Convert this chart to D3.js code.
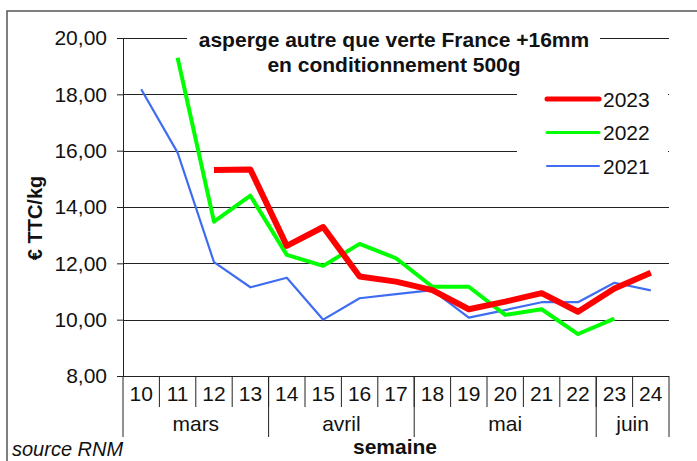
<!DOCTYPE html>
<html>
<head>
<meta charset="utf-8">
<script src="https://cdn.jsdelivr.net/npm/d3@7"></script>
<style>
  body { margin: 0; background: #fff; }
  svg { font-family: "Liberation Sans", Arial, sans-serif; }
</style>
</head>
<body>
<svg id="chart" width="697" height="461"></svg>
<script>
// data
const weeks = [10, 11, 12, 13, 14, 15, 16, 17, 18, 19, 20, 21, 22, 23, 24];
const months = [
    { name: "mars", from: 10, to: 13 },
    { name: "avril", from: 14, to: 17 },
    { name: "mai", from: 18, to: 22 },
    { name: "juin", from: 23, to: 24 }
];
const v2023 = [null, null, 15.31, 15.33, 12.62, 13.29, 11.53, 11.35, 11.05, 10.37, 10.64, 10.94, 10.28, 11.11, 11.67];
const v2022 = [null, 19.30, 13.48, 14.40, 12.30, 11.91, 12.69, 12.18, 11.17, 11.17, 10.17, 10.37, 9.49, 10.04, null];
const v2021 = [18.18, 15.93, 12.04, 11.15, 11.49, 10.00, 10.76, 10.91, 11.05, 10.07, 10.34, 10.62, 10.62, 11.31, 11.04];
const yTicks = [8, 10, 12, 14, 16, 18, 20];

const series = [
    { name: "2023", values: v2023, color: "#ff0000", width: 6 },
    { name: "2022", values: v2022, color: "#00ff00", width: 4 },
    { name: "2021", values: v2021, color: "#3f6df2", width: 2.2 }
];

const svg = d3.select("#chart");
const pl = 123, pr = 669, pt = 38, pb = 376; // plot box

// outer frame
svg.append("path").attr("d", "M7,461V11H697")
    .attr("style", "fill:none; stroke:#555; stroke-width:1.5");

// scales
const x = d3.scaleBand().domain(weeks).range([pl, pr]);
const y = d3.scaleLinear().domain([8, 20]).range([pb, pt]);
const fmt = v => v.toFixed(2).replace(".", ",");

// grid lines
svg.selectAll(".grid").data(yTicks.slice(1)).join("line").classed("grid", true)
    .attr("x1", pl).attr("x2", pr)
    .attr("y1", d => Math.round(y(d)) + 0.5).attr("y2", d => Math.round(y(d)) + 0.5)
    .attr("style", "stroke:#222; stroke-width:1");

// y axis
const yAxis = svg.append("g").attr("transform", "translate(" + pl + ",0)")
    .call(d3.axisLeft(y).tickValues(yTicks).tickFormat(fmt).tickSize(6).tickPadding(10));
yAxis.select(".domain").attr("stroke", "#222");
yAxis.selectAll(".tick line").attr("stroke", "#222");
yAxis.selectAll("text").attr("font-size", 21).attr("fill", "#111")
    .attr("font-family", "Liberation Sans, Arial, sans-serif");

// x axis (weeks)
svg.append("line").attr("x1", pl - 6).attr("x2", pr)
    .attr("y1", pb + 0.5).attr("y2", pb + 0.5).attr("style", "stroke:#222");
svg.selectAll(".wtick").data(weeks.slice(1)).join("line").classed("wtick", true)
    .attr("x1", d => x(d)).attr("x2", d => x(d))
    .attr("y1", pb).attr("y2", pb + 31).attr("style", "stroke:#222");
svg.selectAll(".wlab").data(weeks).join("text").classed("wlab", true)
    .attr("x", d => x(d) + x.bandwidth() / 2).attr("y", pb + 25)
    .attr("text-anchor", "middle").attr("font-size", 21).attr("fill", "#111")
    .text(d => d);

// month groups
const bounds = [pl].concat(months.map(m => x(m.to) + x.bandwidth()));
svg.selectAll(".msep").data(bounds).join("line").classed("msep", true)
    .attr("x1", d => d).attr("x2", d => d)
    .attr("y1", pb).attr("y2", pb + 61).attr("style", "stroke:#222");
svg.selectAll(".mlab").data(months).join("text").classed("mlab", true)
    .attr("x", m => (x(m.from) + x(m.to) + x.bandwidth()) / 2).attr("y", pb + 55)
    .attr("text-anchor", "middle").attr("font-size", 21).attr("fill", "#111")
    .text(m => m.name);

// axis titles
svg.append("text").attr("x", 395).attr("y", 454).attr("text-anchor", "middle")
    .attr("font-size", 21).attr("font-weight", "bold").attr("fill", "#111").text("semaine");
svg.append("text").attr("transform", "translate(42,218) rotate(-90)").attr("text-anchor", "middle")
    .attr("font-size", 20).attr("font-weight", "bold").attr("fill", "#111").text("€ TTC/kg");
svg.append("text").attr("x", 12).attr("y", 456).attr("font-size", 20).attr("font-style", "italic")
    .attr("fill", "#111").text("source RNM");

// lines
const line = d3.line()
    .defined(d => d != null)
    .x((d, i) => x(weeks[i]) + x.bandwidth() / 2)
    .y(d => y(d));
svg.selectAll(".series").data(series.slice().reverse()).join("path").classed("series", true)
    .attr("d", s => line(s.values))
    .attr("fill", "none").attr("stroke", s => s.color).attr("stroke-width", s => s.width)
    .attr("stroke-linejoin", "round");

// title
svg.append("rect").attr("x", 187).attr("y", 24).attr("width", 413).attr("height", 54).attr("fill", "#fff");
const title = svg.append("text").attr("text-anchor", "middle").attr("font-size", 21)
    .attr("font-weight", "bold").attr("fill", "#111");
title.append("tspan").attr("x", 394).attr("y", 47).text("asperge autre que verte France +16mm");
title.append("tspan").attr("x", 394).attr("y", 72).text("en conditionnement 500g");

// legend
svg.append("rect").attr("x", 517).attr("y", 80).attr("width", 151).attr("height", 110).attr("fill", "#fff");
const lg = svg.selectAll(".legend").data(series).join("g").classed("legend", true)
    .attr("transform", (s, i) => "translate(0," + (99 + i * 33.5) + ")");
lg.append("line").attr("x1", 547).attr("x2", 599).attr("y1", 0).attr("y2", 0)
    .attr("stroke", s => s.color).attr("stroke-width", s => Math.max(s.width - 1, 2)).attr("stroke-linecap", "round");
lg.append("text").attr("x", 603).attr("y", 7.5).attr("font-size", 21).attr("fill", "#111").text(s => s.name);
</script>
</body>
</html>
